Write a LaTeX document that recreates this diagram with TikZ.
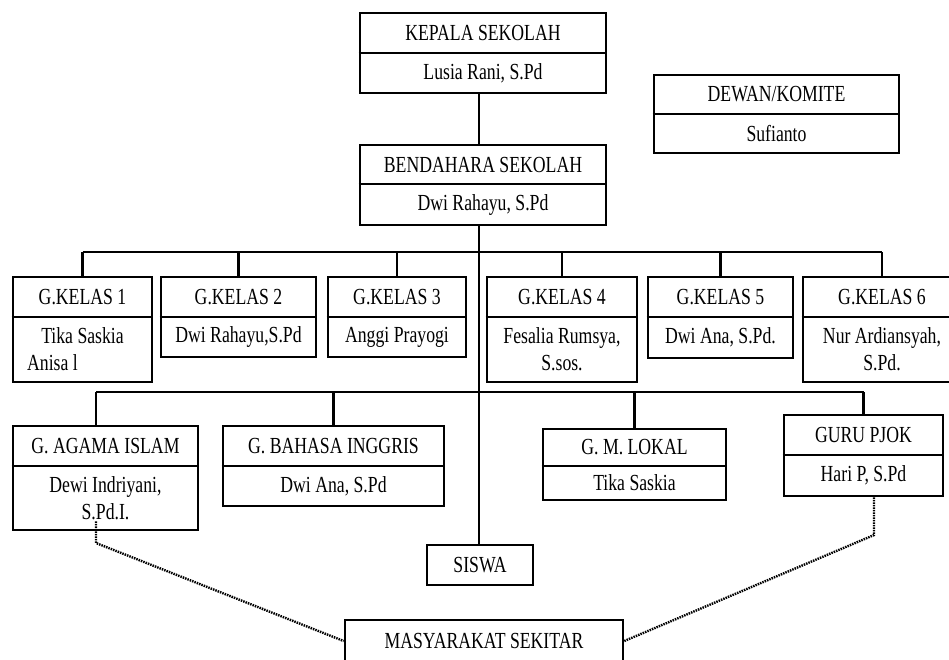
\documentclass[tikz,border=0pt]{standalone}
\usepackage{fontspec}
\setmainfont[FakeStretch=0.77]{Liberation Serif}
\usetikzlibrary{calc,fit}

\tikzset{
  unit/.style={draw, line width=2.6pt, inner sep=0pt},
  boxtext/.style={inner sep=0pt, align=center},
  link/.style={line width=2.3pt},
  dotlink/.style={line width=2.4pt, dash pattern=on 1.5pt off 1pt}
}

% name, x1, y1, x2, y2, divider, title, person
\newcommand{\orgunit}[8]{%
  \node[unit, fit={(#2,#3) (#4,#5)}] (#1) {};
  \draw[line width=2.6pt] (#1.west |- 0,#6) -- (#1.east |- 0,#6);
  \node[boxtext] (#1t) at ($(#2,#3)!0.5!(#4,#6)$) {#7};
  \node[boxtext] (#1p) at ($(#2,#6)!0.5!(#4,#5)$) {#8};
}

\begin{document}
\begin{tikzpicture}[x=1pt, y=-1pt, font=\fontsize{23}{27}\selectfont]
            \useasboundingbox (0,0) rectangle (949,659);
            \clip (0,0) rectangle (949,659);
            \fill[white] (0,0) rectangle (949,659);

            % top of the chart
            \orgunit{kepala}{360}{13}{606}{93}{53}{KEPALA SEKOLAH}{Lusia Rani, S.Pd}
            \orgunit{bendahara}{360}{145}{606}{225}{184}{BENDAHARA SEKOLAH}{Dwi Rahayu, S.Pd}
            \orgunit{dewan}{654}{75}{899}{153}{114}{DEWAN/KOMITE}{Sufianto}

            % class teachers
            \orgunit{kelas1}{13}{277}{152}{382}{317}{G.KELAS 1}{Tika Saskia\\Anisa l\hspace*{60pt}}
            \orgunit{kelas2}{161}{277}{316}{357}{317}{G.KELAS 2}{Dwi Rahayu,S.Pd}
            \orgunit{kelas3}{328}{277}{466}{357}{317}{G.KELAS 3}{Anggi Prayogi}
            \orgunit{kelas4}{487}{277}{637}{382}{317}{G.KELAS 4}{Fesalia Rumsya,\\S.sos.}
            \orgunit{kelas5}{648}{277}{793}{358}{317}{G.KELAS 5}{Dwi Ana, S.Pd.}
            \orgunit{kelas6}{803}{277}{961}{382}{317}{G.KELAS 6}{Nur Ardiansyah,\\S.Pd.}

            % subject teachers
            \orgunit{agama}{13}{426}{198}{530}{466}{G. AGAMA ISLAM}{Dewi Indriyani,\\S.Pd.I.}
            \orgunit{bahasa}{223}{426}{444}{506}{466}{G. BAHASA INGGRIS}{Dwi Ana, S.Pd}
            \orgunit{lokal}{543}{429}{726}{500}{466}{G. M. LOKAL}{Tika Saskia}
            \orgunit{pjok}{784}{415}{943}{496}{455}{GURU PJOK}{Hari P, S.Pd}

            \node[unit, minimum width=106pt, minimum height=40pt] (siswa) at (480,565) {SISWA};
            \node[unit, minimum width=278pt, minimum height=42pt] (masyarakat) at (484,641) {MASYARAKAT SEKITAR};

            \coordinate (spine) at (479,0);
            \coordinate (bus1) at (0,252);
            \coordinate (bus2) at (0,392);
            \coordinate (agamaD) at (96,543);
            \coordinate (pjokD) at (874,535);

            \draw[link] (kepala.south -| spine) -- (bendahara.north -| spine);
            \draw[link] (bendahara.south -| spine) -- (siswa.north -| spine);

            \draw[link] (kelas1.north |- bus1) -- (kelas6.north |- bus1);
            \foreach \k in {1,...,6}
                \draw[link] (kelas\k.north) -- (kelas\k.north |- bus1);

            \draw[link] (agamaD |- bus2) -- (pjok.north |- bus2);
            \draw[link] (agamaD |- agama.north) -- (agamaD |- bus2);
            \foreach \g in {bahasa, lokal, pjok}
                \draw[link] (\g.north) -- (\g.north |- bus2);

            \draw[dotlink] ([yshift=10pt]agama.south -| agamaD) -- (agamaD) -- (masyarakat.west);
            \draw[dotlink] (pjok.south -| pjokD) -- (pjokD) -- (masyarakat.east);
        \end{tikzpicture}
\end{document}
